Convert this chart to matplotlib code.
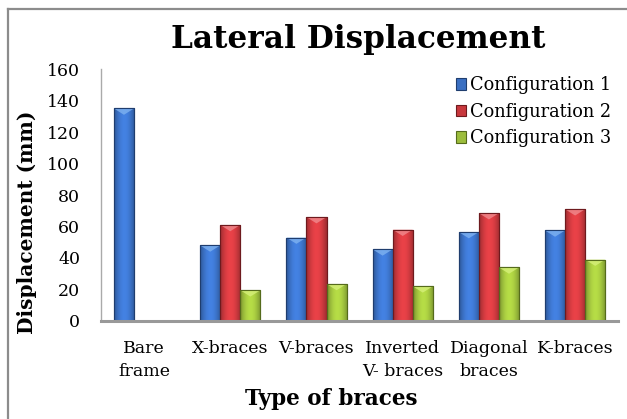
# Lateral displacement of frames with different brace types
import matplotlib
matplotlib.use("Agg")
import matplotlib.pyplot as plt
import matplotlib.colors as mcolors
import numpy as np

# Data
categories = ["Bare\nframe", "X-braces", "V-braces", "Inverted\nV- braces", "Diagonal\nbraces", "K-braces"]
config1 = [135, 48, 53, 45.5, 56.5, 57.5]
config2 = [np.nan, 61, 66, 58, 68.5, 71]
config3 = [np.nan, 19.5, 23.5, 22, 34, 39]
series_names = ["Configuration 1", "Configuration 2", "Configuration 3"]
y_ticks = [0, 20, 40, 60, 80, 100, 120, 140, 160]

colors = ["#3a6fc2", "#c8383d", "#9cbd3c"]
edges = ["#1f3d6e", "#6e1a1e", "#556b1c"]
tops = ["#7fb2f0", "#f08a8e", "#d6f07a"]

plt.rcParams['font.family'] = ['DejaVu Serif']

fig = plt.figure(figsize=(6.27, 4.19), dpi=100)
ax = fig.add_axes([0.161, 0.234, 0.825, 0.601])

x = np.arange(len(categories))
w = 0.233
t = np.linspace(0, 1, 40)
shade = 0.72 + 0.45 * np.sin(np.pi * (t * 0.9 + 0.05))
for k, vals in enumerate([config1, config2, config3]):
    bars = ax.bar(x + (k - 1) * w, vals, width=w, color=colors[k], edgecolor=edges[k],
                  linewidth=0.8, label=series_names[k])
    # give the bars a rounded look with a horizontal gradient
    base = np.array(mcolors.to_rgb(colors[k]))
    grad = np.clip(base[None, :] * shade[:, None], 0, 1)[None, :, :]
    for b in bars:
        h = b.get_height()
        if np.isnan(h):
            continue
        x0, bw = b.get_x(), b.get_width()
        im = ax.imshow(grad, extent=[x0, x0 + bw, 0, h],
                       aspect='auto', zorder=b.get_zorder() + 0.1, interpolation='bilinear')
        im.set_clip_path(b)
        # light bevel at the top of each bar
        ax.fill([x0, x0 + bw, x0 + bw / 2], [h, h, h - 4], color=tops[k],
                alpha=0.8, lw=0, zorder=b.get_zorder() + 0.15)
        ax.bar(x0 + bw / 2, h, width=bw, fill=False,
               edgecolor=edges[k], linewidth=0.8, zorder=b.get_zorder() + 0.2)

ax.set_xlim(-0.5, len(categories) - 0.5)
ax.set_ylim(0, 160)
ax.set_yticks(y_ticks)
ax.set_xticks(x)
ax.set_xticklabels(categories, fontsize=12.5, linespacing=1.4)
ax.tick_params(axis='both', length=0)
ax.tick_params(axis='x', pad=14, labelsize=12.5)
ax.tick_params(axis='y', pad=15, labelsize=12.5)

for s in ['top', 'right']:
    ax.spines[s].set_visible(False)
ax.spines['left'].set_color('#aaaaaa')
ax.spines['left'].set_linewidth(1.0)
ax.spines['bottom'].set_color('#999999')
ax.spines['bottom'].set_linewidth(2.2)
ax.spines['bottom'].set_zorder(5)

ax.set_xlabel("Type of braces", fontsize=15.5, fontweight='bold')
ax.xaxis.set_label_coords(0.445, -0.265)
ax.set_ylabel("Displacement (mm)", fontsize=14.5, fontweight='bold')
ax.yaxis.set_label_coords(-0.124, 0.39)

fig.text(0.571, 0.905, "Lateral Displacement", ha='center', va='center',
         fontsize=22.4, fontweight='bold')

ax.legend(loc='upper right', bbox_to_anchor=(1.0, 1.0), frameon=False,
          fontsize=12.8, handlelength=0.6, handleheight=0.6, handletextpad=0.2,
          labelspacing=0.48, borderaxespad=0.0)

# outer border of the chart area
fig.add_artist(plt.Line2D([8 / 627, 8 / 627], [0, 1 - 9 / 419], color='#8c8c8c', lw=1.6))
fig.add_artist(plt.Line2D([8 / 627, 1], [1 - 9 / 419, 1 - 9 / 419], color='#8c8c8c', lw=1.6))

fig.savefig("out.png", dpi=100)
